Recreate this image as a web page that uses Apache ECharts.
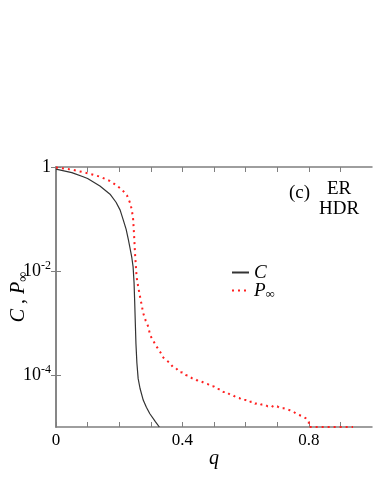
<!DOCTYPE html>
<html>
<head>
<meta charset="utf-8">
<script src="https://cdn.jsdelivr.net/npm/echarts@6/dist/echarts.min.js"></script>
<style>
  html, body { margin: 0; padding: 0; background: #fff; }
  #chart { width: 374px; height: 484px; }
</style>
</head>
<body>
<div id="chart"></div>
<script>
// C (giant cluster size) vs q
const qC = [0, 0.05, 0.086, 0.1, 0.139, 0.171, 0.19, 0.203, 0.213, 0.222, 0.229, 0.234, 0.24, 0.244, 0.247, 0.249, 0.251, 0.253, 0.256, 0.26, 0.266, 0.276, 0.286, 0.297, 0.315, 0.327]
const valC = [0.91, 0.78, 0.65, 0.6, 0.43, 0.3, 0.21, 0.148, 0.095, 0.063, 0.04, 0.028, 0.018, 0.012, 0.006, 0.0026, 0.001, 0.0004, 0.00017, 0.000085, 0.000055, 0.000033, 0.000024, 0.000018, 0.0000126, 0.00001]

// P_inf vs q
const qP = [0, 0.05, 0.1, 0.14, 0.17, 0.19, 0.21, 0.225, 0.235, 0.24, 0.244, 0.247, 0.25, 0.255, 0.26, 0.266, 0.27, 0.276, 0.284, 0.292, 0.298, 0.306, 0.313, 0.32, 0.33, 0.34, 0.35, 0.36, 0.37, 0.38, 0.39, 0.4, 0.41, 0.42, 0.43, 0.44, 0.45, 0.46, 0.47, 0.48, 0.49, 0.5, 0.51, 0.52, 0.53, 0.54, 0.55, 0.56, 0.57, 0.58, 0.59, 0.6, 0.61, 0.62, 0.63, 0.64, 0.65, 0.66, 0.67, 0.68, 0.69, 0.7, 0.71, 0.72, 0.73, 0.74, 0.75, 0.76, 0.77, 0.78, 0.79, 0.8, 0.8005, 0.82, 0.84, 0.86, 0.88, 0.9, 0.92, 0.94]
const valP = [0.98, 0.89, 0.76, 0.65, 0.54, 0.45, 0.36, 0.28, 0.2, 0.148, 0.1, 0.05, 0.022, 0.0078, 0.005, 0.0032, 0.0024, 0.00155, 0.0011, 0.00085, 0.00058, 0.00048, 0.0004, 0.00034, 0.000275, 0.000215, 0.00019, 0.000172, 0.000142, 0.000135, 0.000114, 0.000112, 0.0001, 0.000097, 0.000087, 0.000085, 0.000076, 0.000075, 0.00007, 0.000067, 0.000061, 0.00006, 0.000054, 0.000053, 0.000047, 0.000047, 0.000042, 0.000041, 0.000037, 0.000036, 0.000033, 0.000033, 0.00003, 0.000031, 0.000028, 0.000029, 0.000027, 0.000027, 0.000025, 0.000026, 0.000024, 0.000025, 0.000023, 0.000023, 0.000022, 0.000021, 0.00002, 0.000018, 0.000017, 0.000016, 0.0000148, 0.0000126, 0.00001, 0.00001, 0.00001, 0.00001, 0.00001, 0.00001, 0.00001, 0.00001]

const xTicks = [0, 0.1, 0.2, 0.3, 0.4, 0.5, 0.6, 0.7, 0.8, 0.9]
const xLabels = [0, 0.4, 0.8]
const yTicks = [1, 0.01, 0.0001]

const serif = 'Liberation Serif'
const axisGray = '#7f7f7f'

const chart = echarts.init(document.getElementById('chart'))

const frameAxis = {
  axisLine: { lineStyle: { color: axisGray, width: 1.5 } },
  splitLine: { show: false }
}

const legendBase = {
  left: 226, itemWidth: 17, itemHeight: 10,
  itemStyle: { opacity: 0 }
}

const option = {
  animation: false,
  grid: { left: 56, right: 2, top: 167, bottom: 57, containLabel: false, outerBoundsMode: 'none' },
  legend: [
    {
      ...legendBase, data: ['C'], top: 258,
      formatter: () => '{i|C}',
      textStyle: { rich: { i: { fontFamily: serif, fontStyle: 'italic', fontSize: 19, color: '#000' } } }
    },
    {
      ...legendBase, data: ['P∞'], top: 276,
      formatter: () => '{i|P}{s|∞}',
      textStyle: { rich: {
        i: { fontFamily: serif, fontStyle: 'italic', fontSize: 19, color: '#000' },
        s: { fontFamily: serif, fontSize: 13, color: '#000', padding: [8, 0, 0, 0] }
      } }
    }
  ],
  xAxis: [
    {
      ...frameAxis,
      type: 'value', min: 0, max: 1,
      name: 'q', nameLocation: 'middle', nameGap: 22, nameMoveOverlap: false,
      nameTextStyle: { fontFamily: serif, fontStyle: 'italic', fontSize: 20, color: '#000' },
      axisTick: { inside: true, length: 5, customValues: xTicks, lineStyle: { color: axisGray } },
      axisLabel: {
        customValues: xLabels, margin: 5,
        fontFamily: serif, fontSize: 17, color: '#000',
        formatter: (v) => v === 0 ? '0' : v.toFixed(1)
      }
    },
    {
      ...frameAxis,
      type: 'value', min: 0, max: 1, position: 'top',
      axisTick: { inside: true, length: 5, customValues: xTicks, lineStyle: { color: axisGray } },
      axisLabel: { show: false }
    }
  ],
  yAxis: [
    {
      ...frameAxis,
      type: 'log', logBase: 10, min: 0.00001, max: 1,
      name: '{i|C , P}{s|∞}', nameLocation: 'middle', nameGap: 26, nameRotate: 90, nameMoveOverlap: false,
      nameTextStyle: { rich: {
        i: { fontFamily: serif, fontStyle: 'italic', fontSize: 20, color: '#000' },
        s: { fontFamily: serif, fontSize: 14, color: '#000', padding: [9, 0, 0, 0] }
      } },
      axisTick: { inside: true, length: 5, customValues: yTicks, lineStyle: { color: axisGray } },
      axisLabel: {
        customValues: yTicks, margin: 5,
        formatter: (v) => v >= 0.999 ? '{b|1}' : '{b|10}{s|' + Math.round(Math.log10(v)) + '}',
        rich: {
          b: { fontFamily: serif, fontSize: 18, color: '#000' },
          s: { fontFamily: serif, fontSize: 12, color: '#000', padding: [0, 0, 10, 0] }
        }
      }
    },
    {
      ...frameAxis,
      type: 'log', logBase: 10, min: 0.00001, max: 1, position: 'right',
      axisTick: { inside: true, length: 5, customValues: yTicks, lineStyle: { color: axisGray } },
      axisLabel: { show: false }
    }
  ],
  graphic: [
    { type: 'text', left: 289, top: 184, style: { text: '(c)', font: '19px "Liberation Serif"', fill: '#000' } },
    { type: 'text', left: 327, top: 180, style: { text: 'ER', font: '19px "Liberation Serif"', fill: '#000' } },
    { type: 'text', left: 319, top: 200, style: { text: 'HDR', font: '19px "Liberation Serif"', fill: '#000' } }
  ],
  series: [
    {
      name: 'C', type: 'line', showSymbol: false, symbol: 'none',
      data: qC.map((q, i) => [q, valC[i]]),
      lineStyle: { color: '#333', width: 1.2 },
      itemStyle: { color: '#333' }
    },
    {
      name: 'P∞', type: 'line', showSymbol: false, symbol: 'none',
      data: qP.map((q, i) => [q, valP[i]]),
      lineStyle: { color: '#ff2020', width: 2, type: [2, 4] },
      itemStyle: { color: '#ff2020' }
    }
  ]
}

chart.setOption(option)
</script>
</body>
</html>
